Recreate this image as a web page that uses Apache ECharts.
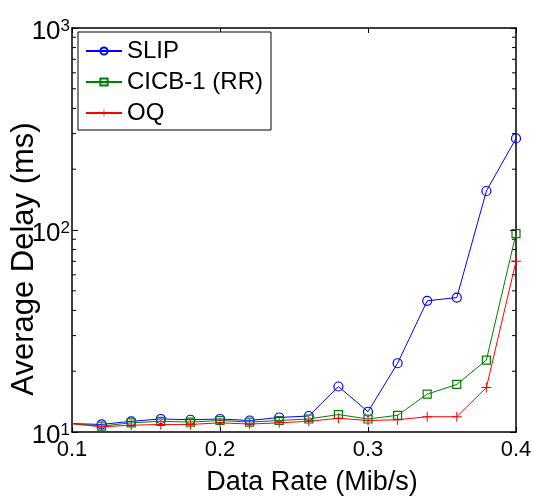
<!DOCTYPE html>
<html>
<head>
<meta charset="utf-8">
<script src="https://cdn.jsdelivr.net/npm/echarts@6/dist/echarts.min.js"></script>
<style>
html,body{margin:0;padding:0;background:#fff;}
#chart{width:534px;height:499px;}
</style>
</head>
<body>
<div id="chart"></div>
<script>
// ---- data ----
const dataRate = [0.10, 0.12, 0.14, 0.16, 0.18, 0.20, 0.22, 0.24, 0.26, 0.28, 0.30, 0.32, 0.34, 0.36, 0.38, 0.40];
const slipDelay = [11.0, 10.9, 11.3, 11.6, 11.5, 11.6, 11.4, 11.8, 12.0, 16.8, 12.6, 21.9, 44.6, 46.3, 156, 284];
const cicbDelay = [11.0, 10.7, 11.1, 11.3, 11.2, 11.4, 11.2, 11.4, 11.6, 12.2, 11.6, 12.1, 15.4, 17.2, 22.7, 95.9];
const oqDelay   = [11.0, 10.6, 10.8, 10.9, 10.9, 11.1, 10.95, 11.1, 11.3, 11.7, 11.4, 11.5, 11.9, 11.9, 16.6, 70];
const seriesNames = ['SLIP', 'CICB-1 (RR)', 'OQ'];
const xTickLabels = ['0.1', '0.2', '0.3', '0.4'];
const minorTickValues = [20, 30, 40, 50, 60, 70, 80, 90, 200, 300, 400, 500, 600, 700, 800, 900];

const FONT = 'Liberation Sans, Arial, Helvetica, sans-serif';
const X_MIN = 0.1, X_MAX = 0.4;

function buildData(ys) {
  return dataRate.map((x, i) => i === 0 ? { value: [x, ys[i]], symbol: 'none' } : [x, ys[i]]);
}

const plusPath = 'path://M4.5,0H5.5V4.5H10V5.5H5.5V10H4.5V5.5H0V4.5H4.5Z';

const chart = echarts.init(document.getElementById('chart'));
const axisLine = { show: true, onZero: false, lineStyle: { color: '#000', width: 1.5 } };

chart.setOption({
  animation: false,
  backgroundColor: '#fff',
  grid: { left: 72, right: 18, top: 28, bottom: 67, containLabel: false, outerBoundsMode: 'none' },
  legend: {
    data: seriesNames,
    orient: 'vertical',
    left: 78, top: 32,
    padding: [7, 8, 5, 7],
    itemWidth: 36, itemHeight: 9, itemGap: 7,
    backgroundColor: '#fff',
    borderColor: '#000', borderWidth: 1,
    textStyle: { fontSize: 24, color: '#000', fontFamily: FONT }
  },
  xAxis: [{
    type: 'value', min: X_MIN, max: X_MAX, interval: 0.1,
    axisLine: axisLine,
    axisTick: { inside: true, length: 5, lineStyle: { color: '#000', width: 1 } },
    splitLine: { show: false },
    axisLabel: {
      margin: 7, fontSize: 22, color: '#000', fontFamily: FONT,
      formatter: v => xTickLabels[Math.round((v - X_MIN) / 0.1)]
    },
    name: 'Data Rate (Mib/s)', nameLocation: 'middle', nameGap: 37, nameMoveOverlap: false,
    nameTextStyle: { fontSize: 27, color: '#000', fontFamily: FONT, padding: [0, 0, 0, 36] }
  }, {
    type: 'value', position: 'top', min: X_MIN, max: X_MAX, interval: 0.1,
    axisLine: axisLine,
    axisTick: { inside: true, length: 5, lineStyle: { color: '#000', width: 1 } },
    axisLabel: { show: false }, splitLine: { show: false }
  }],
  yAxis: [{
    type: 'log', logBase: 10, min: 10, max: 1000,
    axisLine: axisLine,
    axisTick: { inside: true, length: 6, lineStyle: { color: '#000', width: 1 } },
    splitLine: { show: false },
    axisLabel: {
      margin: 2, color: '#000', fontFamily: FONT,
      padding: [8, 0, 0, 0],
      formatter: v => '{b|10}{s|' + Math.round(Math.log10(v)) + '}',
      rich: {
        b: { fontSize: 26, fontFamily: FONT, color: '#000', lineHeight: 28 },
        s: { fontSize: 17, fontFamily: FONT, color: '#000', verticalAlign: 'top', lineHeight: 28, padding: [0, 0, 14, 0] }
      }
    },
    name: 'Average Delay (ms)', nameLocation: 'middle', nameGap: 32, nameMoveOverlap: false,
    nameTextStyle: { fontSize: 31, color: '#000', fontFamily: FONT, padding: [0, 58, 0, 0] }
  }, {
    type: 'log', logBase: 10, min: 10, max: 1000, position: 'right',
    axisLine: axisLine,
    axisTick: { inside: true, length: 6, lineStyle: { color: '#000', width: 1 } },
    axisLabel: { show: false }, splitLine: { show: false }
  }],
  series: [
    {
      name: seriesNames[0], type: 'line', data: buildData(slipDelay),
      symbol: 'circle', symbolSize: 9,
      lineStyle: { color: '#0000ff', width: 1 },
      itemStyle: { color: 'rgba(0,0,0,0)', borderColor: '#0000ff', borderWidth: 1.2 },
      clip: true
    },
    {
      name: seriesNames[1], type: 'line', data: buildData(cicbDelay),
      symbol: 'rect', symbolSize: 8,
      lineStyle: { color: '#008000', width: 1 },
      itemStyle: { color: 'rgba(0,0,0,0)', borderColor: '#008000', borderWidth: 1.2 },
      clip: true
    },
    {
      name: seriesNames[2], type: 'line', data: buildData(oqDelay),
      symbol: plusPath, symbolSize: 10,
      lineStyle: { color: '#ff0000', width: 1 },
      itemStyle: { color: '#ff0000' },
      clip: true
    },
    {
      name: 'minorTicks', type: 'custom', silent: true,
      data: minorTickValues.map(v => [X_MIN, v]),
      encode: { x: 0, y: 1 },
      renderItem: (params, api) => {
        const v = api.value(1);
        const l = api.coord([X_MIN, v]);
        const r = api.coord([X_MAX, v]);
        return {
          type: 'group', children: [
            { type: 'line', shape: { x1: l[0], y1: l[1], x2: l[0] + 4, y2: l[1] }, style: { stroke: '#000', lineWidth: 1 } },
            { type: 'line', shape: { x1: r[0], y1: r[1], x2: r[0] - 4, y2: r[1] }, style: { stroke: '#000', lineWidth: 1 } }
          ]
        };
      }
    }
  ]
});
</script>
</body>
</html>
